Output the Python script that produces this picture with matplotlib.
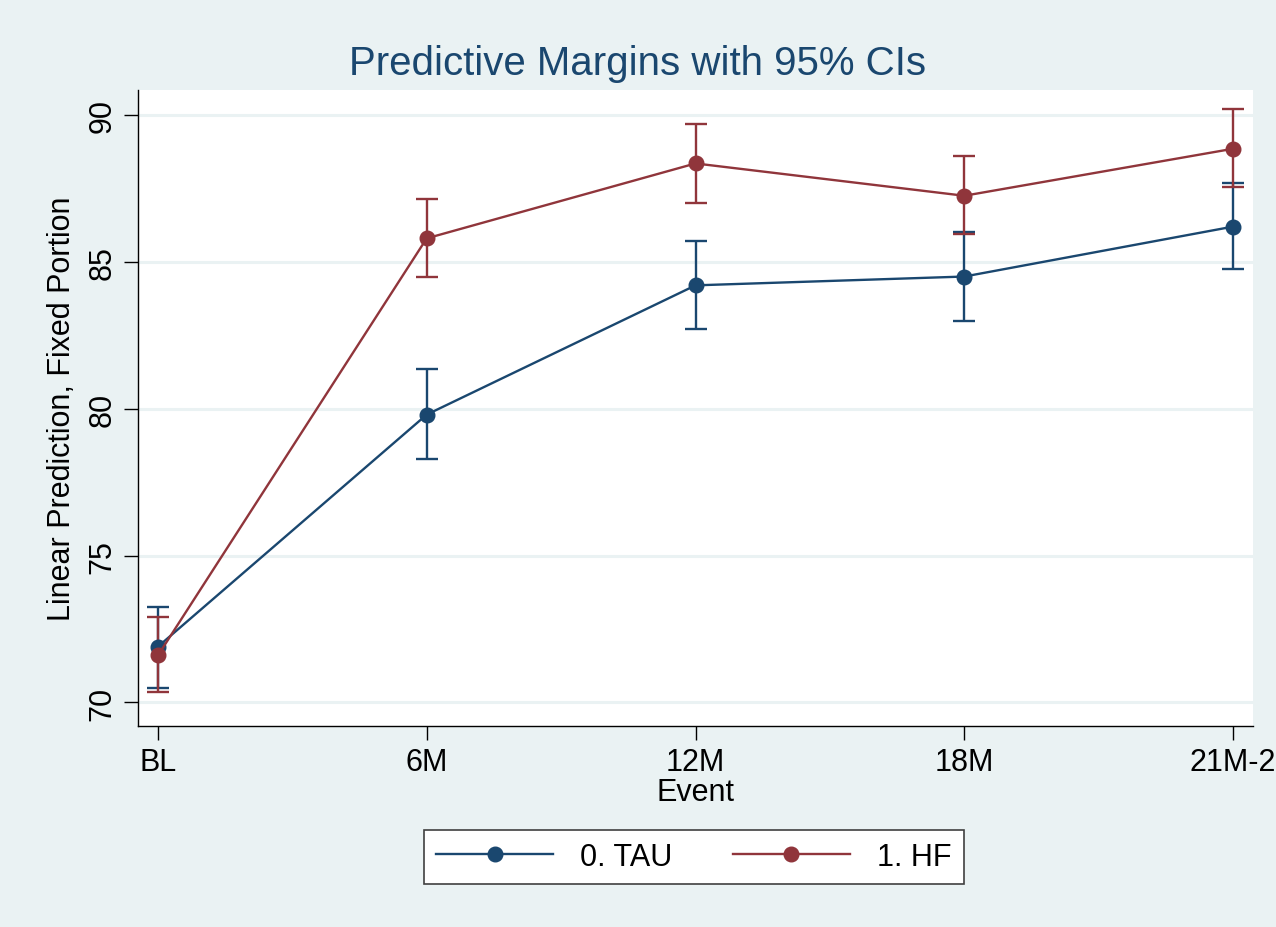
import matplotlib.pyplot as plt
from matplotlib.lines import Line2D
import numpy as np

plt.rcParams['font.family'] = ['Liberation Sans', 'DejaVu Sans']

# data
events = ["BL", "6M", "12M", "18M", "21M-2"]
tau_mean = [71.9, 79.8, 84.2, 84.5, 86.2]
tau_lo = [70.5, 78.3, 82.7, 83.0, 84.75]
tau_hi = [73.25, 81.35, 85.7, 86.0, 87.7]
hf_mean = [71.6, 85.8, 88.35, 87.25, 88.85]
hf_lo = [70.35, 84.5, 87.0, 85.95, 87.55]
hf_hi = [72.9, 87.15, 89.7, 88.6, 90.2]
y_ticks = [70, 75, 80, 85, 90]

bg = "#eaf2f3"
navy = "#1a476f"
red = "#90353b"

fig = plt.figure(figsize=(12.76, 9.28), dpi=100, facecolor=bg)
ax = fig.add_axes([138 / 1276, 1 - 727 / 928, (1253 - 138) / 1276, (727 - 91) / 928])
ax.set_facecolor("white")

x = np.arange(len(events))

for yt in y_ticks:
    ax.axhline(yt, color=bg, lw=2.2, zorder=0)


def draw(mean, lo, hi, color):
    mean = np.array(mean)
    err = [mean - np.array(lo), np.array(hi) - mean]
    ax.errorbar(x, mean, yerr=err, fmt="none", ecolor=color, elinewidth=1.7,
                capsize=8, capthick=1.7, zorder=2)
    ax.plot(x, mean, color=color, lw=1.7, marker="o", markersize=10.5, zorder=3)


draw(tau_mean, tau_lo, tau_hi, navy)
draw(hf_mean, hf_lo, hf_hi, red)

ax.set_xlim(-0.074, 4.074)
ax.set_ylim(69.2, 90.85)
ax.set_xticks(x)
ax.set_xticklabels(events, fontsize=22)
ax.set_yticks(y_ticks)
ax.set_yticklabels([str(v) for v in y_ticks], fontsize=22, rotation=90, va="center")
ax.tick_params(axis="both", length=10, width=1, color="black", pad=5)

for side in ["top", "right"]:
    ax.spines[side].set_visible(False)
for side in ["left", "bottom"]:
    ax.spines[side].set_linewidth(1)

ax.set_xlabel("Event", fontsize=22, va="center")
ax.xaxis.set_label_coords(0.5, -(793 - 727) / 636)
ax.set_ylabel("Linear Prediction, Fixed Portion", fontsize=22, va="center")
ax.yaxis.set_label_coords(-(138 - 62) / 1115, 0.5)

fig.text(0.5, 1 - 64 / 928, "Predictive Margins with 95% CIs", ha="center", va="center",
         fontsize=29, color=navy)

handles = [Line2D([], [], color=navy, lw=1.7, marker="o", markersize=10.5),
           Line2D([], [], color=red, lw=1.7, marker="o", markersize=10.5)]
leg = fig.legend(handles, ["0. TAU", "1. HF"], loc="center", ncol=2,
                 bbox_to_anchor=(694 / 1276, 1 - 858 / 928), fontsize=22,
                 frameon=True, fancybox=False, edgecolor="#404040", framealpha=1,
                 facecolor="white", handlelength=3.8, columnspacing=2.0,
                 handletextpad=0.9, borderpad=0.4)
leg.get_frame().set_linewidth(1.2)

fig.savefig("out.png", dpi=100, facecolor=bg)
